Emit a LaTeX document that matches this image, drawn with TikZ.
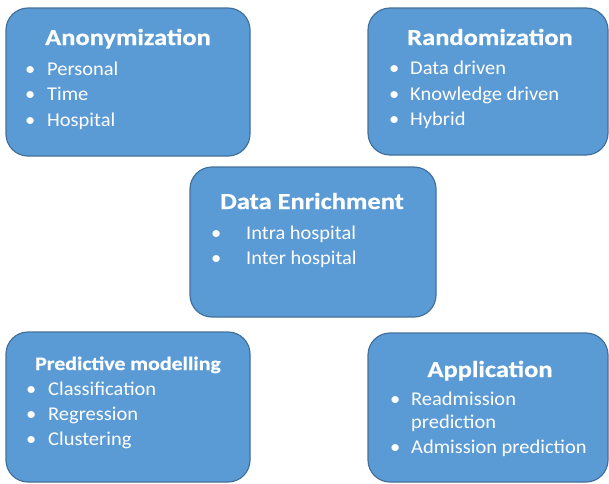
\documentclass[tikz,border=0pt]{standalone}
\usepackage{fontspec}
\setmainfont{Carlito}
\newfontfamily\headfont{Carlito}[FakeStretch=1.15,FakeBold=0.6]
\newfontfamily\itemfont{Carlito}[FakeStretch=1.05]
\usetikzlibrary{positioning}
\definecolor{boxfill}{HTML}{5B9BD5}
\definecolor{boxline}{HTML}{41719C}
% bullet hung to the left of an item
\newcommand\blt[1]{\llap{\textbullet\hspace{#1}}}

\begin{document}
\begin{tikzpicture}[x=1pt,y={(0,-1pt)},
box/.style={draw=boxline,fill=boxfill,line width=1.2pt,rounded corners=22pt,inner sep=0pt},
head/.style={anchor=base,text=white,font=\headfont\fontsize{23}{27}\selectfont\bfseries,inner sep=0pt},
item/.style={anchor=base west,text=white,font=\itemfont\fontsize{19.5}{24}\selectfont,inner sep=0pt}]
\useasboundingbox (0,0) rectangle (609,483);
\node[box,minimum width=244pt,minimum height=148pt] (anon) at (128,82) {};
\node[box,minimum width=240pt,minimum height=147pt] (rand) at (488,81.5) {};
\node[box,minimum width=246pt,minimum height=150pt] (enr) at (313,242) {};
\node[box,minimum width=244pt,minimum height=150pt] (pred) at (128,407) {};
\node[box,minimum width=240pt,minimum height=149pt] (app) at (488,407.5) {};
% anonymization
\node[head] (anont) at (128,45) {Anonymization};
\node[item] (anon1) at (47,75) {\blt{12pt}Personal};
\node[item] (anon2) at (47,100) {\blt{12pt}Time};
\node[item] (anon3) at (47,126) {\blt{12pt}Hospital};
% randomization
\node[head] (randt) at (490,45) {Randomization};
\node[item] (rand1) at (410,74) {\blt{11pt}Data driven};
\node[item] (rand2) at (410,100) {\blt{11pt}Knowledge driven};
\node[item] (rand3) at (410,125) {\blt{11pt}Hybrid};
% enrichment
\node[head] (enrt) at (312,209) {Data Enrichment};
\node[item] (enr1) at (246,239) {\blt{25pt}Intra hospital};
\node[item] (enr2) at (246,264) {\blt{25pt}Inter hospital};
% predictive modelling
\node[head,font=\headfont\fontsize{19}{23}\selectfont\bfseries] (predt) at (128,370) {Predictive modelling};
\node[item] (pred1) at (48,395) {\blt{12pt}Classification};
\node[item] (pred2) at (48,420) {\blt{12pt}Regression};
\node[item] (pred3) at (48,445) {\blt{12pt}Clustering};
% application
\node[head] (appt) at (490,377) {Application};
\node[item] (app1) at (411,405) {\blt{11pt}Readmission};
\node[item] (app1b) at (411,428) {prediction};
\node[item] (app2) at (411,453) {\blt{11pt}Admission prediction};
\end{tikzpicture}
\end{document}
